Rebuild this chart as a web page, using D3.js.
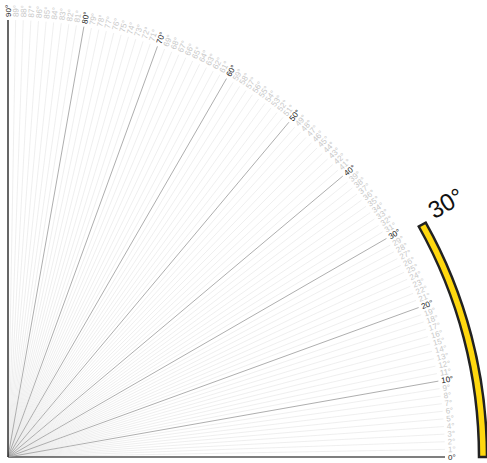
<!DOCTYPE html>
<html>
<head>
<meta charset="utf-8">
<script src="https://cdn.jsdelivr.net/npm/d3@7"></script>
<style>
  body { margin: 0; background: #fff; }
  svg { display: block; font-family: "Liberation Sans", Arial, sans-serif; }
</style>
</head>
<body>
<svg id="chart" width="487" height="463"></svg>
<script>
  // degree ticks of the protractor, the major ones and the highlighted value
  const degrees = d3.range(0, 91, 1);
  const majorDegrees = [0, 10, 20, 30, 40, 50, 60, 70, 80, 90];
  const highlight = [30];

  const origin = [8, 457];
  const radius = 437;
  const arcPad = 0.7; // the yellow band stops a hair short of its angle

  var svg = d3.select('#chart');
  var g = svg.append('g')
    .attr('transform', 'translate(' + origin + ')');

  // math angle (degrees) -> d3.arc angle (radians, 0 at top, clockwise)
  var arcAngle = d3.scaleLinear().domain([0, 90]).range([Math.PI / 2, 0]);
  // math angle -> radians for trig
  var rad = d3.scaleLinear().domain([0, 90]).range([0, Math.PI / 2]);

  var isMajor = d => majorDegrees.indexOf(d) >= 0;

  /* SPOKES */
  g.append('g').attr('class', 'spokes')
    .selectAll('line')
    .data(degrees.slice().sort((a, b) => isMajor(a) - isMajor(b)))
    .enter()
    .append('line')
    .attr('x1', 0)
    .attr('y1', 0)
    .attr('x2', d => radius * Math.cos(rad(d)))
    .attr('y2', d => -radius * Math.sin(rad(d)))
    .style('stroke', d => (d === 0 || d === 90) ? '#000' : isMajor(d) ? '#999' : '#ebebeb')
    .style('stroke-width', d => (d === 0 || d === 90) ? 1.2 : 0.8);

  /* LABELS */
  g.append('g').attr('class', 'labels')
    .selectAll('text')
    .data(degrees)
    .enter()
    .append('text')
    .attr('transform', d => 'rotate(' + (-d) + ') translate(' + (radius + 3) + ',0)')
    .attr('dy', '0.35em')
    .attr('text-anchor', 'start')
    .style('font-size', '8px')
    .style('fill', d => isMajor(d) ? '#222' : '#c8c8c8')
    .text(d => d + '°');

  /* HIGHLIGHT ARC */
  var arc = d3.arc()
    .innerRadius(471)
    .outerRadius(479)
    .startAngle(d => arcAngle(d - arcPad))
    .endAngle(arcAngle(0));

  g.append('g').attr('class', 'highlight')
    .selectAll('path')
    .data(highlight)
    .enter()
    .append('path')
    .attr('d', arc)
    .style('fill', '#ffd80f')
    .style('stroke', '#222')
    .style('stroke-width', 2.5);

  g.append('g')
    .selectAll('text')
    .data(highlight)
    .enter()
    .append('text')
    .attr('transform', d => 'rotate(' + (-(d - 1)) + ') translate(488,0) rotate(-1)')
    .attr('dy', '-1')
    .style('font-size', '24px')
    .style('fill', '#111')
    .text(d => d + '°');
</script>
</body>
</html>
